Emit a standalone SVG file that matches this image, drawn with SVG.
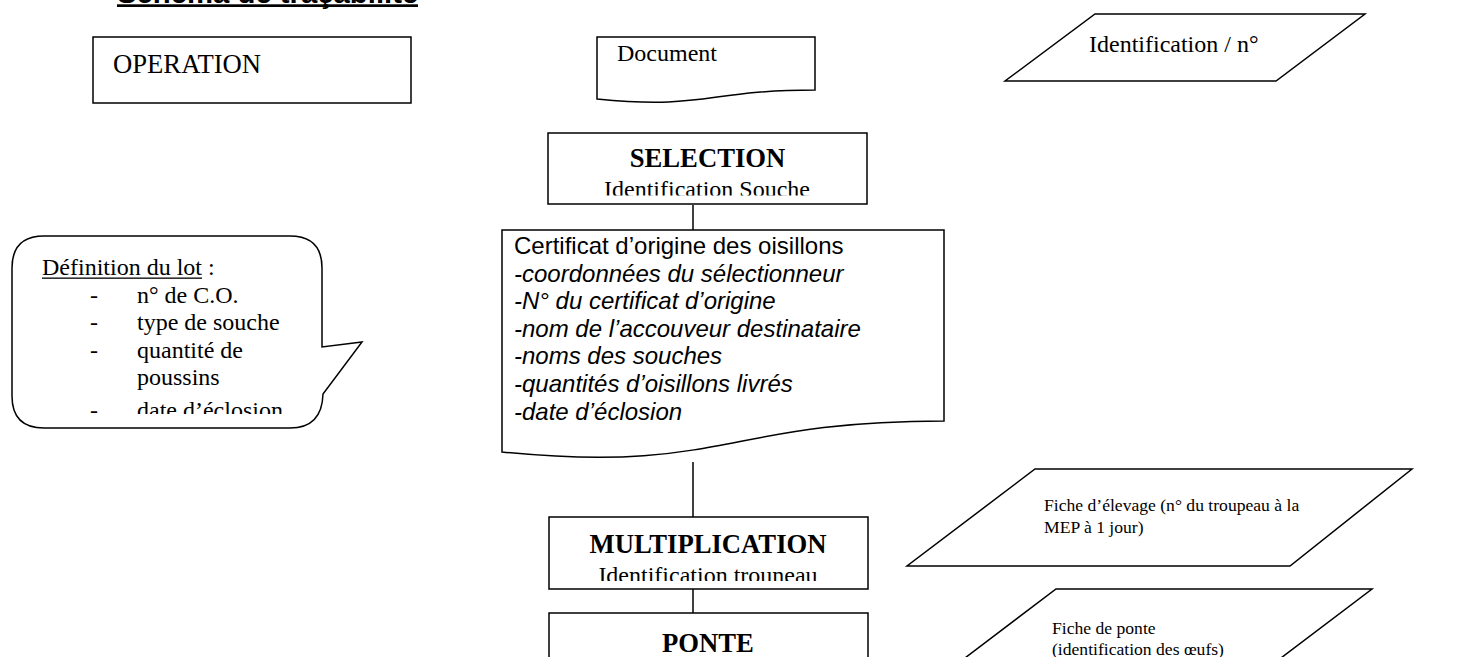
<svg xmlns="http://www.w3.org/2000/svg" width="1479" height="657" viewBox="0 0 1479 657">
<style>
.s{fill:#fff;stroke:#000;stroke-width:1.5}
.c{fill:none;stroke:#000;stroke-width:1.5}
.t{font-family:"Liberation Serif","Times New Roman",serif;font-size:24px;fill:#000}
.tb{font-family:"Liberation Serif","Times New Roman",serif;font-size:26.67px;font-weight:bold;fill:#000}
.a{font-family:"Liberation Sans",Arial,sans-serif;font-size:24px;fill:#000}
.sm{font-family:"Liberation Serif","Times New Roman",serif;font-size:17.6px;fill:#000}
</style>
<defs>
<clipPath id="cSel"><rect x="548" y="133" width="320" height="62.5"/></clipPath>
<clipPath id="cMul"><rect x="549" y="517" width="320" height="64"/></clipPath>
<clipPath id="cBub"><rect x="12" y="236" width="320" height="178"/></clipPath>
</defs>
<g id="title">
<text x="117" y="3" style="font-family:'Liberation Sans',Arial,sans-serif;font-size:29.3px;font-weight:bold">Schéma de traçabilité</text>
<rect x="117" y="4.3" width="301" height="2.7" fill="#000"/>
</g>
<g id="legend-operation">
<rect class="s" x="93" y="37" width="318" height="66"/>
<text class="t" x="113" y="73" style="font-size:26.67px">OPERATION</text>
</g>
<g id="legend-document">
<path class="s" d="M597,37 H815 V90 C706,90 706,110 597,99 Z"/>
<text class="t" x="617" y="61">Document</text>
</g>
<g id="legend-identification">
<polygon class="s" points="1095,14 1365,14 1276,81 1005,81"/>
<text class="t" x="1089" y="52">Identification / n°</text>
</g>
<g id="connectors">
<line class="c" x1="693" y1="205" x2="693" y2="230"/>
<line class="c" x1="693" y1="462" x2="693" y2="517"/>
<line class="c" x1="693" y1="558" x2="693" y2="613"/>
</g>
<g id="selection">
<rect class="s" x="548" y="133" width="319" height="71"/>
<text class="tb" x="707.5" y="167" text-anchor="middle">SELECTION</text>
<text class="t" x="707" y="197" text-anchor="middle" clip-path="url(#cSel)">Identification Souche</text>
</g>
<g id="certificat">
<path class="s" d="M502,230 H944 V421 C723,421 723,474 502,452 Z"/>
<text class="a" x="514" y="254">Certificat d’origine des oisillons</text>
<text class="a" x="514" y="281.6" font-style="italic">-coordonnées du sélectionneur</text>
<text class="a" x="514" y="309.2" font-style="italic">-N° du certificat d’origine</text>
<text class="a" x="514" y="336.8" font-style="italic">-nom de l’accouveur destinataire</text>
<text class="a" x="514" y="364.4" font-style="italic">-noms des souches</text>
<text class="a" x="514" y="392" font-style="italic">-quantités d’oisillons livrés</text>
<text class="a" x="514" y="419.6" font-style="italic">-date d’éclosion</text>
</g>
<g id="definition-lot">
<path class="s" d="M44,236 H290 Q322,236 322,268 V347 L362,342 L323,394 Q322,428 290,428 H44 Q12,428 12,396 V268 Q12,236 44,236 Z"/>
<g clip-path="url(#cBub)">
<text class="t" x="42" y="275">Définition du lot :</text>
<rect x="42" y="277.5" width="160" height="1.3" fill="#000"/>
<text class="t" x="90" y="302.6">-</text><text class="t" x="137" y="302.6">n° de C.O.</text>
<text class="t" x="90" y="330.2">-</text><text class="t" x="137" y="330.2">type de souche</text>
<text class="t" x="90" y="357.8">-</text><text class="t" x="137" y="357.8">quantité de</text>
<text class="t" x="137" y="385.4">poussins</text>
<text class="t" x="90" y="418">-</text><text class="t" x="137" y="418">date d’éclosion</text>
</g>
</g>
<g id="multiplication">
<rect class="s" x="549" y="517" width="319" height="72"/>
<text class="tb" x="708" y="553" text-anchor="middle">MULTIPLICATION</text>
<text class="t" x="708" y="583" text-anchor="middle" clip-path="url(#cMul)">Identification trouneau</text>
</g>
<g id="ponte">
<rect class="s" x="549" y="613" width="319" height="70"/>
<text class="tb" x="708" y="652" text-anchor="middle">PONTE</text>
</g>
<g id="fiche-elevage">
<polygon class="s" points="1035,469 1412,469 1290,566 907,566"/>
<text class="sm" x="1044" y="511">Fiche d’élevage (n° du troupeau à la</text>
<text class="sm" x="1044" y="533">MEP à 1 jour)</text>
</g>
<g id="fiche-ponte">
<polygon class="s" points="1056,589 1372,589 1244,686 928,686"/>
<text class="sm" x="1052" y="634">Fiche de ponte</text>
<text class="sm" x="1052" y="655">(identification des œufs)</text>
</g>
</svg>
